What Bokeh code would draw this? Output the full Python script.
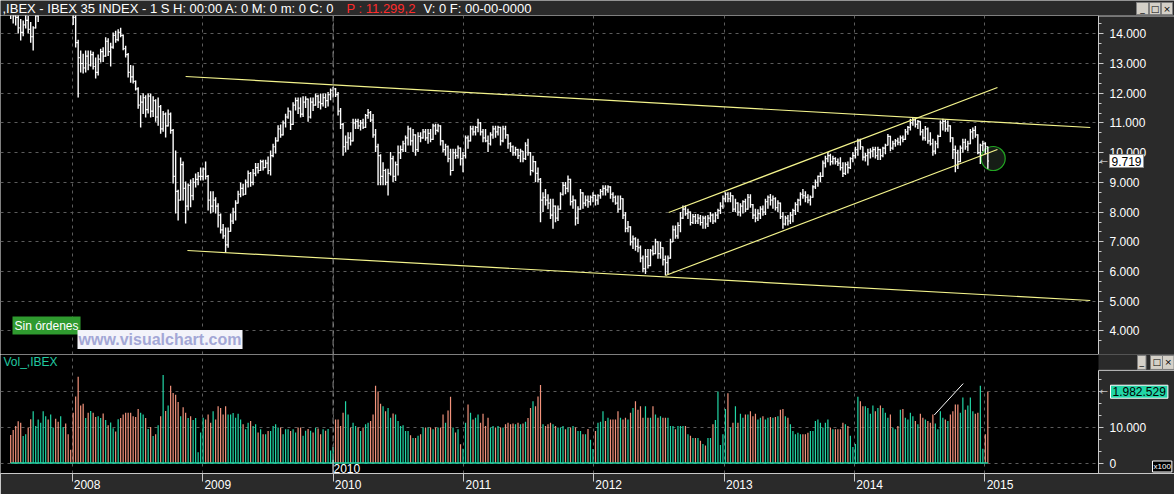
import pandas as pd
from bokeh.plotting import figure
from bokeh.models import Range1d, LinearAxis, FixedTicker, Grid, Label, Span
from bokeh.layouts import column
from bokeh.embed import file_html
from bokeh.resources import INLINE
from bokeh.core.properties import value

# ---------------- data (weekly bars, IBEX 35) ----------------
FIRST_WEEK = "2007-07-13"
FIRST_OPEN = 15100

highs = [
    # 2007 H2
    15350, 15050, 14900, 14800, 14500, 14450, 14650, 14600, 14400, 14250, 14700, 14900, 15200,
    15500, 15700, 15850, 15750, 15950, 15900, 15600, 15500, 15800, 15900, 15650, 15400,
    # 2008
    15300, 14700, 13800, 13440, 13330, 13440, 13440, 13440, 13400, 13200, 13300, 13500, 13550,
    13880, 13850, 13700, 14040, 14100, 14150, 14200, 13980, 13600, 13350, 12950, 12930, 12430,
    12200, 11930, 12000, 11930, 11990, 11990, 11900, 11800, 11860, 11600, 11400, 11350, 11450,
    11350, 10800, 10070, 8750, 9840, 9700, 9030, 8960, 9100, 9150, 9300, 9350, 9500,
    # 2009
    9500, 9700, 9250, 8700, 8700, 8500, 8300, 7950, 7600, 7480, 7480, 7950, 8150,
    8400, 8720, 9000, 8950, 9100, 9400, 9350, 9450, 9650, 9650, 9760, 9760, 9760,
    9870, 10070, 10300, 10520, 10920, 10950, 11080, 11310, 11520, 11410, 11700, 11860, 11860,
    11860, 11900, 11900, 11820, 11860, 11860, 11990, 11950, 11990, 11990, 11990, 12040, 12160,
    # 2010
    12220, 12180, 12040, 11500, 11000, 10580, 10690, 10690, 11140, 11140, 11140, 11100, 11140,
    11300, 11470, 11400, 11300, 10800, 10300, 9950, 9680, 9460, 9460, 10020, 9900, 9700,
    10240, 10240, 10400, 10580, 10910, 10850, 10800, 10620, 10690, 10690, 10800, 10800, 10800,
    10800, 10970, 10970, 10970, 10920, 10420, 10300, 10240, 10130, 10130, 10130, 10240, 10170, 10020,
    # 2011
    10580, 10580, 10910, 10910, 10900, 11140, 11030, 10800, 10800, 10580, 10690, 10910, 10910,
    10910, 10870, 10910, 10910, 10620, 10350, 10240, 10200, 10130, 10130, 10060, 10350, 10470,
    10020, 9900, 9720, 9500, 9150, 8670, 8780, 8600, 8450, 8450, 8220, 8220, 8670,
    9010, 9010, 9230, 9120, 8560, 8420, 8200, 8780, 8670, 8560, 8560, 8560, 8670,
    # 2012
    8580, 8600, 8780, 8900, 8900, 8900, 8870, 8670, 8560, 8560, 8560, 8470, 8000,
    7700, 7520, 7210, 7150, 7100, 6880, 6540, 6760, 6760, 6760, 6880, 7100, 7020,
    6990, 6820, 6540, 6540, 7100, 7550, 7550, 7660, 8000, 8220, 8220, 8110, 8020,
    7940, 7940, 7940, 7900, 7880, 7880, 7900, 8000, 7950, 8000, 8110, 8330, 8560,
    # 2013
    8670, 8670, 8670, 8570, 8450, 8330, 8300, 8400, 8450, 8610, 8600, 8270, 8110,
    8100, 8200, 8220, 8450, 8560, 8610, 8560, 8500, 8400, 8320, 8000, 7880, 7900,
    8000, 8110, 8330, 8450, 8670, 8780, 8700, 8600, 8560, 8900, 9100, 9230, 9340,
    9740, 9900, 10020, 9960, 9900, 9850, 9800, 9850, 9680, 9680, 9700, 9850, 10020,
    # 2014 / Jan 2015
    10200, 10470, 10470, 10210, 10000, 10130, 10150, 10200, 10200, 10200, 10130, 10200, 10300,
    10630, 10570, 10400, 10460, 10500, 10580, 10580, 10800, 10900, 11140, 11190, 11150, 11100,
    11060, 10800, 10900, 10850, 10690, 10470, 10400, 10600, 11080, 11140, 11100, 11080, 10920,
    10520, 10240, 10100, 10240, 10470, 10470, 10400, 10800, 10850, 10900, 10620, 10300, 10400,
    10350, 10210,
]

lows = [
    14500, 14350, 14280, 14010, 13775, 13920, 14180, 14010, 13700, 13440, 14180, 14400, 14700,
    14950, 15200, 15300, 15150, 15400, 15200, 14900, 14850, 15200, 15350, 15100, 14900,
    14300, 13540, 11860, 12700, 12660, 12700, 12770, 12900, 12800, 12500, 12600, 13030, 13050,
    13230, 13250, 12900, 13500, 13700, 13750, 13880, 13450, 13200, 12530, 12350, 12330, 12090,
    11480, 10850, 11300, 11180, 11320, 11180, 11200, 11040, 10910, 10640, 10700, 10510, 10880,
    10640, 8960, 7950, 7720, 8390, 8390, 7620, 8050, 8160, 8400, 8830, 8900, 9060,
    9060, 9100, 8050, 7950, 8000, 7950, 7480, 7280, 7100, 6640, 6800, 7340, 7600,
    7720, 8290, 8500, 8550, 8580, 8830, 8850, 8900, 9210, 9300, 9380, 9400, 9480,
    9270, 9230, 9850, 9970, 10380, 10500, 10580, 10850, 11140, 10760, 10930, 11420, 11300,
    11180, 11200, 11500, 11040, 11150, 11400, 11580, 11500, 11450, 11550, 11500, 11550, 11760,
    11860, 11870, 11250, 10800, 9900, 10020, 10100, 10240, 10380, 10800, 10800, 10750, 10800,
    10830, 11140, 11030, 10500, 10020, 8900, 8900, 8900, 8900, 8560, 9230, 9010, 9050,
    9230, 9790, 10020, 10020, 10240, 10240, 10020, 9900, 10020, 10350, 10470, 10400, 10300,
    10350, 10430, 10600, 10690, 10240, 10020, 9900, 9680, 9230, 9380, 9790, 9800, 9570, 9340,
    9800, 10130, 10380, 10580, 10580, 10690, 10580, 10350, 10350, 10020, 10240, 10470, 10500,
    10580, 10240, 10350, 10470, 10130, 10020, 9900, 9900, 9790, 9680, 9680, 9750, 9900,
    9230, 9340, 9010, 9000, 7660, 8000, 8220, 8100, 7770, 7440, 7660, 7700, 8080,
    8560, 8600, 8670, 8220, 8110, 7550, 7600, 8080, 8110, 8200, 8150, 8220, 8330,
    8220, 8250, 8450, 8560, 8560, 8650, 8450, 8330, 8250, 7990, 8080, 7770, 7320,
    7320, 6880, 6760, 6700, 6650, 6310, 5980, 5920, 6100, 6180, 6540, 6580, 6430,
    6430, 6200, 5870, 5900, 6430, 6990, 7100, 7100, 7320, 7770, 7880, 7770, 7550,
    7600, 7600, 7600, 7550, 7440, 7440, 7500, 7660, 7600, 7650, 7770, 7940, 8110,
    8330, 8330, 8330, 8000, 8000, 7880, 7850, 7950, 8000, 8080, 8150, 7770, 7660,
    7700, 7770, 7880, 7900, 8110, 8220, 8110, 8050, 8000, 7770, 7440, 7550, 7550,
    7600, 7660, 7900, 8000, 8220, 8450, 8330, 8300, 8220, 8480, 8780, 8850, 9010,
    9180, 9500, 9680, 9570, 9600, 9600, 9550, 9400, 9180, 9250, 9300, 9450, 9680,
    9800, 9900, 10100, 9740, 9700, 9570, 9800, 9850, 9800, 9750, 9750, 9850, 9950,
    10240, 10050, 10100, 10200, 10250, 10240, 10350, 10430, 10600, 10750, 10910, 10850, 10800,
    10580, 10410, 10400, 10300, 10240, 9900, 9950, 10150, 10530, 10750, 10700, 10700, 10350,
    9790, 9340, 9450, 9680, 10000, 10100, 10050, 10280, 10450, 10500, 9950, 9620, 10050,
    9950, 9455,
]

closes = [
    14750, 14600, 14550, 14200, 14050, 14300, 14450, 14150, 13900, 14200, 14600, 14800, 15100,
    15400, 15550, 15450, 15600, 15800, 15350, 15250, 15300, 15650, 15500, 15300, 15150,
    14550, 13700, 13200, 13000, 12850, 13250, 12950, 13300, 12900, 12700, 13150, 13400, 13250,
    13750, 13400, 13550, 13950, 13800, 14050, 13950, 13500, 13300, 12700, 12550, 12400, 12150,
    11600, 11700, 11850, 11450, 11900, 11400, 11750, 11200, 11550, 10800, 11300, 10900, 11300,
    10750, 9200, 8700, 8400, 9600, 8800, 8200, 8900, 8550, 9000, 9100, 9200, 9200,
    9450, 9200, 8400, 8200, 8400, 8200, 7900, 7400, 7200, 6900, 7350, 7700, 8000,
    8300, 8600, 8800, 8600, 9000, 9300, 9000, 9300, 9500, 9400, 9700, 9500, 9650,
    9400, 9900, 10200, 10400, 10800, 10600, 11000, 11200, 11400, 10950, 11600, 11750, 11500,
    11300, 11700, 11800, 11200, 11700, 11600, 11900, 11700, 11650, 11850, 11750, 11950, 12100,
    12150, 11950, 11400, 10950, 10200, 10350, 10500, 10400, 11000, 11050, 10900, 11000, 10850,
    11250, 11350, 11100, 10600, 10200, 9900, 9200, 9400, 9000, 9300, 9800, 9200, 9600,
    10000, 10100, 10300, 10500, 10800, 10400, 10600, 10100, 10550, 10500, 10700, 10500, 10650,
    10450, 10900, 10750, 10900, 10400, 10100, 10200, 9800, 9400, 10000, 9900, 10150, 9800, 9900,
    10500, 10400, 10800, 10700, 10850, 11000, 10700, 10500, 10400, 10300, 10600, 10800, 10700,
    10850, 10400, 10800, 10600, 10300, 10200, 10000, 10100, 9900, 10050, 9800, 10250, 10000,
    9400, 9700, 9300, 9100, 8400, 8500, 8400, 8300, 7900, 8200, 7800, 8100, 8600,
    8900, 8800, 9100, 8350, 8400, 7800, 8100, 8650, 8300, 8400, 8350, 8500, 8560,
    8400, 8550, 8700, 8800, 8750, 8850, 8600, 8500, 8300, 8100, 8450, 7900, 7450,
    7500, 7000, 7100, 6850, 6800, 6450, 6100, 6500, 6200, 6700, 6600, 7000, 6600,
    6800, 6400, 6300, 6450, 7000, 7400, 7200, 7550, 7800, 8100, 7950, 8000, 7650,
    7850, 7700, 7800, 7650, 7800, 7600, 7800, 7900, 7700, 7900, 8050, 8200, 8450,
    8600, 8450, 8550, 8100, 8300, 8000, 8200, 8350, 8100, 8500, 8250, 7900, 7800,
    7950, 8100, 8000, 8350, 8500, 8400, 8450, 8150, 8300, 7850, 7600, 7800, 7700,
    7900, 8050, 8250, 8400, 8600, 8550, 8500, 8400, 8500, 8850, 9000, 9200, 9200,
    9650, 9800, 9900, 9700, 9800, 9700, 9650, 9500, 9300, 9600, 9500, 9800, 9900,
    10100, 10400, 10200, 9850, 9900, 10000, 10050, 10100, 9900, 10100, 9900, 10150, 10250,
    10550, 10150, 10300, 10400, 10350, 10500, 10450, 10700, 10850, 11000, 11100, 10950, 11050,
    10700, 10500, 10800, 10400, 10300, 10050, 10300, 10550, 11000, 11050, 10800, 10900, 10500,
    10100, 10000, 9700, 10150, 10350, 10200, 10300, 10700, 10750, 10600, 10000, 10250, 10300,
    10200, 9719,
]

# weekly volume, in the axis units (x100)
volumes = [
    7800, 9200, 10300, 11600, 11200, 7500, 8000, 9900, 12200, 14400, 10300, 12100, 11200,
    14400, 13000, 12100, 13500, 9900, 12300, 11500, 13000, 10000, 11000, 8000, 3700,
    14000, 18500, 24000, 16000, 16500, 12500, 14000, 14500, 14000, 12800, 13000, 12500, 13800,
    12000, 10500, 11300, 9700, 8800, 12200, 12500, 13500, 14000, 14000, 14000, 13000, 12800,
    15000, 14000, 13500, 12500, 9500, 10000, 7500, 8000, 10500, 13000, 24500, 14500, 16000,
    21500, 19500, 19000, 17000, 13000, 15500, 14000, 12500, 13000, 12000, 12500, 3000, 8500,
    12600, 12100, 13500, 11200, 14400, 12100, 15800, 15300, 13500, 15800, 13500, 13500, 13900,
    12600, 13700, 12100, 10800, 9400, 11200, 11700, 10300, 10800, 8500, 9400, 8000, 8000,
    8900, 8900, 10300, 10800, 9900, 9900, 8000, 9400, 9400, 8900, 9400, 8500, 9900,
    9900, 7600, 9000, 9500, 9000, 8500, 9800, 9600, 8000, 9400, 9000, 9500, 3500,
    4500, 12100, 12100, 10300, 14000, 17200, 13500, 9900, 11200, 10300, 9900, 8900, 9900,
    10800, 11200, 11700, 13500, 21500, 19900, 16500, 15800, 14400, 15300, 12600, 13800, 13500,
    11700, 10300, 10500, 8900, 8900, 7700, 7000, 7000, 7600, 8000, 9900, 9900, 9900,
    9900, 9400, 9900, 9900, 9900, 13500, 11200, 14600, 18400, 9900, 8500, 9400, 5200, 4000,
    11200, 16300, 14000, 12100, 12600, 13500, 11200, 13700, 10300, 12600, 9900, 10300, 9900,
    10300, 9900, 9900, 10800, 11200, 10800, 11000, 10800, 11200, 10800, 11000, 11500, 12500,
    15300, 17200, 15800, 18500, 21700, 10800, 10300, 10800, 11200, 10800, 10300, 9900, 9900,
    10300, 9400, 9900, 9900, 10300, 9900, 8900, 8900, 8000, 8000, 9500, 6500, 3900,
    8900, 11200, 11500, 14400, 11700, 12600, 12100, 12100, 12100, 14400, 12600, 12100, 12600,
    12100, 14000, 15300, 17200, 14800, 15800, 12600, 15800, 12600, 12600, 15800, 13500, 12600,
    13000, 12600, 12600, 12600, 10300, 10300, 9400, 10300, 10300, 10300, 10300, 8000, 7600,
    7000, 7000, 7000, 6200, 5300, 4900, 7000, 7000, 10800, 12000, 19900, 5000, 8000,
    15000, 19400, 9900, 11200, 15800, 11200, 13700, 12600, 13500, 13500, 14400, 13000, 13700,
    12100, 12600, 13000, 12100, 12600, 12800, 12600, 12800, 13000, 14800, 15000, 13000, 12600,
    10800, 8900, 8000, 8400, 8000, 8000, 8000, 8400, 8900, 8900, 11700, 12100, 11200,
    9900, 11200, 12100, 9900, 9400, 9400, 9400, 9400, 11200, 10800, 10300, 7600, 4500,
    5300, 18400, 17200, 15800, 15800, 15300, 13700, 16000, 14400, 15300, 16000, 15300, 14000,
    12600, 13500, 9900, 9400, 10300, 14800, 15000, 12600, 12100, 14000, 13000, 11700, 10800,
    13700, 12600, 12100, 11700, 11200, 13500, 11000, 9400, 14400, 12600, 12100, 11700, 13500,
    14400, 16300, 16300, 14000, 18200, 14800, 16000, 18200, 14400, 13700, 14000, 21500, 4000,
    8000, 19825.29,
]

# axis ticks and labels
price_ticks = [4000, 5000, 6000, 7000, 8000, 9000, 10000, 11000, 12000, 13000, 14000]
price_tick_labels = ["4.000", "5.000", "6.000", "7.000", "8.000", "9.000", "10.000",
                     "11.000", "12.000", "13.000", "14.000"]
vol_ticks = [0, 10000, 20000]
vol_tick_labels = ["0", "10.000", ""]
years = ["2008", "2009", "2010", "2011", "2012", "2013", "2014", "2015"]

# drawn trend lines (start date, start value, end date, end value)
trend_x0 = ["2008-11-14", "2008-11-19", "2012-07-29", "2012-07-20"]
trend_y0 = [12563, 6708, 7987, 5867]
trend_x1 = ["2015-10-23", "2015-10-23", "2015-02-05", "2015-02-05"]
trend_y1 = [10847, 5025, 12193, 10107]
vol_trend_x = ["2014-08-12", "2014-11-01"]
vol_trend_y = [13360, 22090]
circle_x = ["2015-01-24"]
circle_y = [9804]

HEADER_1 = ",IBEX - IBEX 35 INDEX -  1 S H: 00:00 A: 0 M: 0 m: 0 C: 0"
HEADER_P = "P : 11.299,2"
HEADER_2 = "V: 0  F: 00-00-0000"

# ---------------- helpers ----------------
FONT = "Liberation Sans"
BG = "#2a2a2a"
GRID = "#5c5c5c"
YELLOW = "#f4f48c"
GREEN = "#22d6a6"
SALMON = "#f3937c"
AXIS_C = "#c8c8c8"


def to_ms(t):
    return int(pd.Timestamp(t).value // 10**6)


PX_PER_DAY = 130.4 / 365.25
ORIGIN = pd.Timestamp("2008-01-01")
ORIGIN_PX = 71.6


def px_x(px):
    return to_ms(ORIGIN + pd.Timedelta(days=(px - ORIGIN_PX) / PX_PER_DAY))


def py_price(py):
    return 15120.5 - 33.65 * py


def py_vol(py):
    return (463.5 - py) / 0.00363


def style_axis(ax, tick_out):
    ax.axis_line_color = AXIS_C
    ax.major_tick_line_color = AXIS_C
    ax.minor_tick_line_color = AXIS_C
    ax.major_tick_out = tick_out
    ax.major_tick_in = 0
    ax.minor_tick_out = 3
    ax.minor_tick_in = 0
    ax.major_label_text_color = "white"
    ax.major_label_text_font = FONT
    ax.major_label_text_font_size = "12px"


dates = pd.date_range(FIRST_WEEK, periods=len(closes), freq="7D")
xs = [to_ms(d) for d in dates]
opens = [FIRST_OPEN] + closes[:-1]
TICK = 1.2 / PX_PER_DAY * 86400000
xl = [x - TICK for x in xs]
xr_ = [x + TICK for x in xs]
year_ms = [to_ms(f"{y}-01-01") for y in years]
AXIS_X = px_x(1098)

x_range = Range1d(px_x(0), px_x(1174))

# ---------------- header ----------------
h = figure(width=1174, height=15, x_range=Range1d(0, 1174), y_range=Range1d(15, 0),
           x_axis_location=None, y_axis_location=None, toolbar_location=None,
           output_backend="svg", min_border=0, background_fill_color=BG,
           border_fill_color=BG, outline_line_color=None)
h.grid.visible = False
h.text(x=[2, 346, 423], y=[8, 8, 8], text=[HEADER_1, HEADER_P, HEADER_2],
       text_color=["white", "#ff2a2a", "white"], text_baseline="middle",
       text_font=value(FONT), text_font_size="13px")
h.quad(left=[1136, 1149, 1161], right=[1148, 1160, 1172], top=[2, 2, 2], bottom=[14, 14, 14],
       fill_color="#d4d0c8", line_color="#808080")
h.text(x=[1142, 1154.5, 1166.5], y=[8, 8, 8], text=["_", "□", "×"], text_color="black",
       text_align="center", text_baseline="middle", text_font=value("DejaVu Sans"),
       text_font_size="9px")

# ---------------- price panel ----------------
p = figure(width=1174, height=339, x_range=x_range, y_range=Range1d(py_price(354), py_price(15)),
           x_axis_location=None, y_axis_location=None, toolbar_location=None,
           output_backend="svg", min_border=0, background_fill_color="black",
           border_fill_color=BG, outline_line_color=None)
p.grid.visible = False

p.add_layout(Grid(dimension=0, ticker=FixedTicker(ticks=year_ms), grid_line_color=GRID,
                  grid_line_dash="3 4"))
p.add_layout(Grid(dimension=1, ticker=FixedTicker(ticks=price_ticks), grid_line_color=GRID,
                  grid_line_dash="3 4"))
p.add_layout(Span(location=to_ms("2010-01-01"), dimension="height", line_color="#8a8a8a",
                  line_dash="6 3", line_width=1))

p.scatter(x=[to_ms(c) for c in circle_x], y=circle_y, size=24, marker="circle",
          fill_color="#182018", fill_alpha=0.9, line_color="#22a622", line_width=1.2)

p.segment(x0=xs, y0=lows, x1=xs, y1=highs, line_color="white", line_width=1.4)
p.segment(x0=xl, y0=opens, x1=xs, y1=opens, line_color="white", line_width=1.2)
p.segment(x0=xs, y0=closes, x1=xr_, y1=closes, line_color="white", line_width=1.2)

p.segment(x0=[to_ms(t) for t in trend_x0], y0=trend_y0,
          x1=[to_ms(t) for t in trend_x1], y1=trend_y1, line_color=YELLOW, line_width=1.2)

# scale area (right of the plotting area)
p.quad(left=[AXIS_X], right=[px_x(1180)], bottom=[py_price(360)], top=[py_price(10)],
       fill_color=BG, line_color=None)
p.segment(x0=[AXIS_X], y0=[py_price(15.5)], x1=[px_x(1174)], y1=[py_price(15.5)],
          line_color=AXIS_C, line_width=1)

minor_price = []
for t in price_ticks[:-1]:
    minor_price += [t + 333.3, t + 666.7]
minor_price += [3666.7, 14333.3]
yax = LinearAxis(ticker=FixedTicker(ticks=price_ticks, minor_ticks=minor_price),
                 major_label_overrides=dict(zip(price_ticks, price_tick_labels)),
                 fixed_location=AXIS_X)
style_axis(yax, 5)
yax.major_label_standoff = 6
p.add_layout(yax, "right")

last_price_label = f"{closes[-1]:,}".replace(",", ".")
p.add_layout(Label(x=px_x(1099), y=closes[-1], text="←", text_color="#c0c0c0",
                   text_font="DejaVu Sans", text_font_size="10px", text_baseline="middle"))
p.add_layout(Label(x=px_x(1109), y=closes[-1], text=last_price_label, text_color="black",
                   text_font=FONT, text_font_size="12px", text_baseline="middle",
                   background_fill_color="white", border_line_color="#909090", padding=2))

p.add_layout(Label(x=px_x(12), y=py_price(325), text="Sin órdenes", text_color="white",
                   text_font=FONT, text_font_size="12px", text_baseline="middle",
                   background_fill_color="#2f9a2f", padding=2))
p.add_layout(Label(x=px_x(77), y=py_price(339), text="www.visualchart.com",
                   text_color="#a3a7d6", text_font=FONT, text_font_style="bold",
                   text_font_size="16px", text_baseline="middle",
                   background_fill_color="#f3f3fa", padding=1))

# ---------------- volume panel ----------------
v = figure(width=1174, height=140, x_range=x_range, y_range=Range1d(py_vol(474), py_vol(354)),
           x_axis_location=None, y_axis_location=None, toolbar_location=None,
           output_backend="svg", min_border_left=0, min_border_right=0,
           min_border_top=0, min_border_bottom=20, background_fill_color="black",
           border_fill_color=BG, outline_line_color=None)
v.grid.visible = False

NBSP = "\u00a0" * 9
xax = LinearAxis(ticker=FixedTicker(ticks=year_ms),
                 major_label_overrides={m: NBSP + y for m, y in zip(year_ms, years)})
style_axis(xax, 8)
xax.major_label_standoff = -4
xax.minor_tick_line_color = None
v.add_layout(xax, "below")

v.add_layout(Grid(dimension=0, ticker=FixedTicker(ticks=year_ms), grid_line_color=GRID,
                  grid_line_dash="3 4"))
v.add_layout(Grid(dimension=1, ticker=FixedTicker(ticks=vol_ticks), grid_line_color=GRID,
                  grid_line_dash="3 4"))
v.add_layout(Span(location=to_ms("2010-01-01"), dimension="height", line_color="#8a8a8a",
                  line_dash="6 3", line_width=1))

vcolors = [GREEN if c >= o else SALMON for c, o in zip(closes, opens)]
v.segment(x0=xs, y0=[0] * len(xs), x1=xs, y1=volumes, line_color=vcolors, line_width=1.2)
v.segment(x0=[xs[0]], y0=[0], x1=[xs[-1]], y1=[0], line_color=GREEN, line_width=1.5)
v.line(x=[to_ms(t) for t in vol_trend_x], y=vol_trend_y, line_color="white", line_width=1)

v.segment(x0=[to_ms("2010-01-01")], y0=[py_vol(474)], x1=[to_ms("2010-01-01")],
          y1=[py_vol(460)], line_color="white", line_width=1)
v.add_layout(Label(x=px_x(333), y=py_vol(473), text="2010", text_color="white",
                   text_font=FONT, text_font_size="12px", text_baseline="bottom"))
v.add_layout(Label(x=px_x(3), y=py_vol(362), text="Vol_,IBEX", text_color="#22c8a0",
                   text_font=FONT, text_font_size="12px", text_baseline="middle"))

v.quad(left=[AXIS_X], right=[px_x(1180)], bottom=[py_vol(480)], top=[py_vol(350)],
       fill_color=BG, line_color=None)
v.segment(x0=[AXIS_X], y0=[py_vol(370)], x1=[px_x(1174)], y1=[py_vol(370)],
          line_color=AXIS_C, line_width=1)

minor_vol = [3333, 6667, 13333, 16667, 23333]
vax = LinearAxis(ticker=FixedTicker(ticks=vol_ticks, minor_ticks=minor_vol),
                 major_label_overrides=dict(zip(vol_ticks, vol_tick_labels)),
                 fixed_location=AXIS_X, bounds=(py_vol(474), py_vol(370)))
style_axis(vax, 5)
vax.major_label_standoff = 6
v.add_layout(vax, "right")

last_vol_label = f"{round(volumes[-1] * 100):,}".replace(",", ".")
v.add_layout(Label(x=px_x(1099), y=volumes[-1], text="←", text_color="#c0c0c0",
                   text_font="DejaVu Sans", text_font_size="10px", text_baseline="middle"))
v.add_layout(Label(x=px_x(1110), y=volumes[-1], text=last_vol_label, text_color="black",
                   text_font=FONT, text_font_size="12px", text_baseline="middle",
                   background_fill_color=GREEN, border_line_color="white", padding=2))
v.add_layout(Label(x=px_x(1152), y=py_vol(472.5), text="x100", text_color="white",
                   text_font=FONT, text_font_size="8px", text_baseline="bottom",
                   background_fill_color="black", border_line_color="white", padding=1))
for bx, sym in zip([1137, 1150, 1162], ["_", "□", "×"]):
    v.add_layout(Label(x=px_x(bx), y=py_vol(362), text=sym, text_color="black",
                       text_font="DejaVu Sans", text_font_size="9px",
                       text_baseline="middle", background_fill_color="#d4d0c8",
                       border_line_color="#808080", padding=2))

layout = column(h, p, v, spacing=0)
open("out.html", "w").write(file_html(layout, INLINE))
